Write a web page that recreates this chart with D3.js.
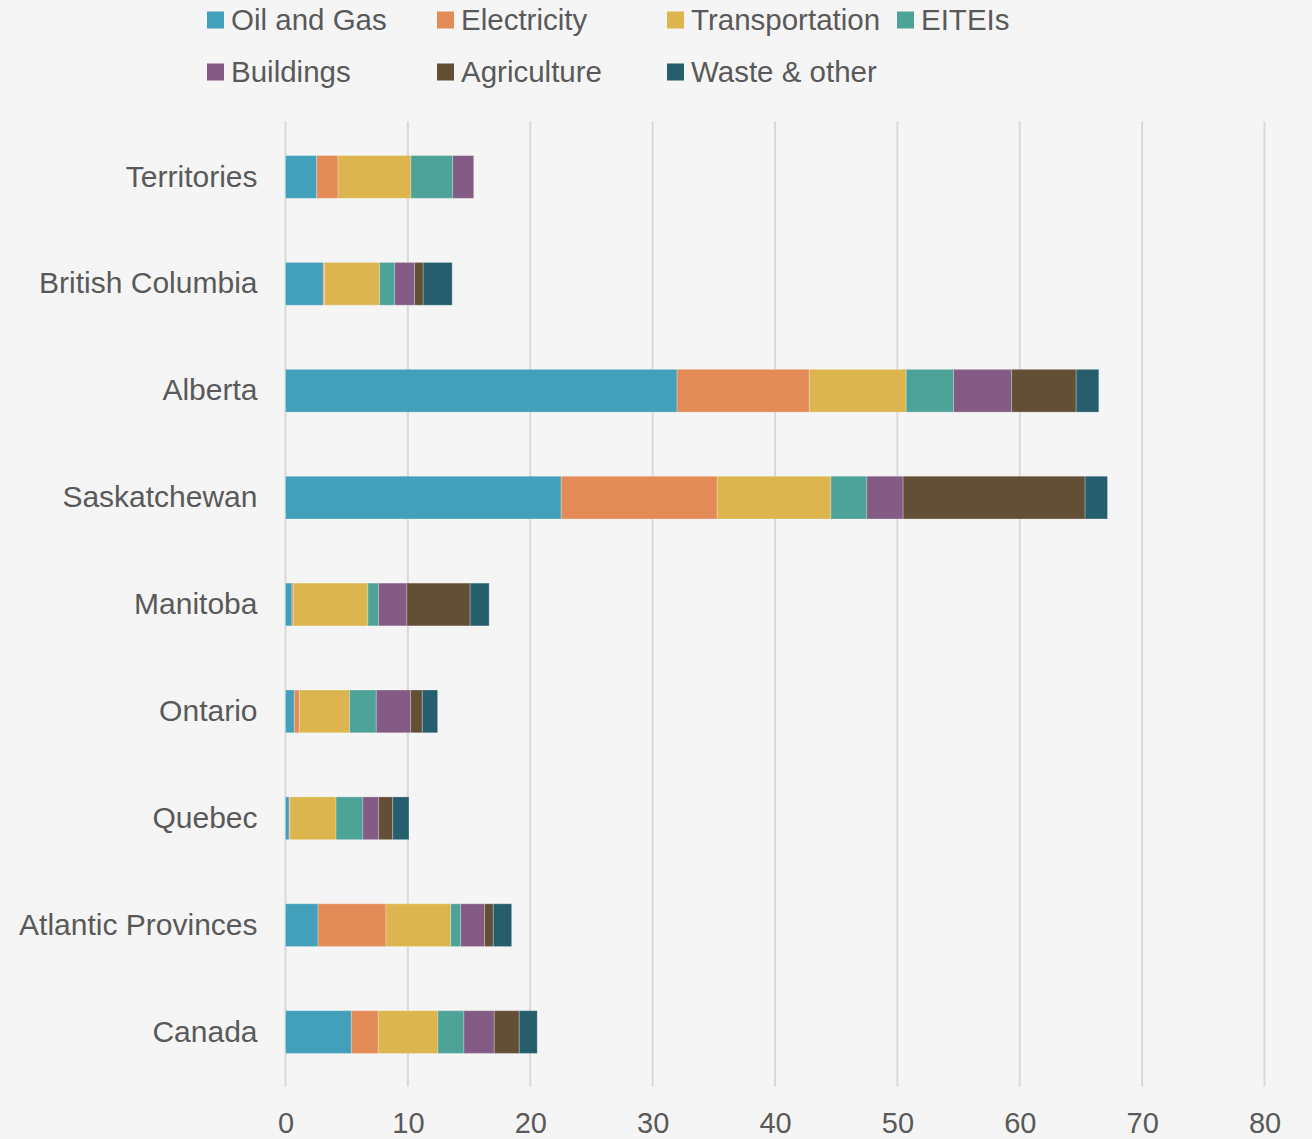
<!DOCTYPE html>
<html>
<head>
<meta charset="utf-8">
<script src="https://cdn.jsdelivr.net/npm/d3@7"></script>
<style>
  html, body { margin: 0; padding: 0; background: #f5f5f5; }
  svg { display: block; }
</style>
</head>
<body>
<svg id="chart" width="1312" height="1139"></svg>
<script>
// Regions, top to bottom
const regions = ["Territories", "British Columbia", "Alberta", "Saskatchewan", "Manitoba",
                 "Ontario", "Quebec", "Atlantic Provinces", "Canada"];

// Sectors in stacking order
const sectors = ["Oil and Gas", "Electricity", "Transportation", "EITEIs",
                 "Buildings", "Agriculture", "Waste & other"];

const sectorColors = ["#43a0ba", "#e38b57", "#dcb54e", "#4ea399", "#845b84", "#634f35", "#265e6d"];

// Per-sector values, one per region (same order as regions)
const oilGas         = [2.55, 3.09, 32.0, 22.53, 0.53, 0.72, 0.30, 2.66, 5.38];
const electricity    = [1.74, 0.10, 10.8, 12.75, 0.10, 0.41, 0.05, 5.55, 2.20];
const transportation = [5.96, 4.50, 7.92, 9.29, 6.10, 4.11, 3.78, 5.29, 4.88];
const eiteis         = [3.41, 1.23, 3.87, 2.94, 0.87, 2.18, 2.20, 0.81, 2.12];
const buildings      = [1.72, 1.63, 4.74, 2.96, 2.32, 2.81, 1.28, 1.96, 2.48];
const agriculture    = [0.00, 0.70, 5.28, 14.87, 5.17, 0.95, 1.15, 0.71, 2.04];
const wasteOther     = [0.00, 2.37, 1.85, 1.83, 1.55, 1.25, 1.33, 1.50, 1.47];

const xTicks = [0, 10, 20, 30, 40, 50, 60, 70, 80];

const seriesValues = [oilGas, electricity, transportation, eiteis, buildings, agriculture, wasteOther];

const rows = regions.map((r, i) => {
  const row = { region: r };
  sectors.forEach((s, k) => { row[s] = seriesValues[k][i]; });
  return row;
});

const svg = d3.select("#chart");
const textColor = "#595959";
const fontFamily = "'Liberation Sans', Arial, sans-serif";

const margin = { left: 285.5, right: 47.5, top: 123.5, bottom: 53.5 };
const W = 1312, H = 1139;

const x = d3.scaleLinear().domain([0, 80]).range([margin.left, W - margin.right]);
const y = d3.scaleBand().domain(regions).range([margin.top, H - margin.bottom]).paddingInner(0.6).paddingOuter(0.3);
const color = d3.scaleOrdinal().domain(sectors).range(sectorColors);

// Vertical gridlines
svg.append("g")
  .selectAll("line")
  .data(xTicks)
  .join("line")
  .attr("x1", d => x(d)).attr("x2", d => x(d))
  .attr("y1", margin.top - 2).attr("y2", H - margin.bottom + 1)
  .attr("stroke", "#d9d9d9")
  .attr("stroke-width", 2);

// Stacked bars
const stack = d3.stack().keys(sectors)(rows);
svg.append("g")
  .selectAll("g")
  .data(stack)
  .join("g")
  .attr("fill", d => color(d.key))
  .selectAll("rect")
  .data(d => d)
  .join("rect")
  .attr("x", d => x(d[0]))
  .attr("y", d => y(d.data.region))
  .attr("width", d => Math.max(0, x(d[1]) - x(d[0])))
  .attr("height", y.bandwidth())
  .attr("stroke", "rgba(255,255,255,0.25)")
  .attr("stroke-width", 1);

// X axis labels
const xAxis = svg.append("g")
  .attr("transform", `translate(0,${H - margin.bottom})`)
  .call(d3.axisBottom(x).tickValues(xTicks).tickSize(0).tickPadding(27));
xAxis.select(".domain").remove();
xAxis.selectAll("text")
  .attr("fill", textColor)
  .style("font-family", fontFamily)
  .style("font-size", "29px");

// Y axis labels
const yAxis = svg.append("g")
  .attr("transform", `translate(${margin.left},0)`)
  .call(d3.axisLeft(y).tickSize(0).tickPadding(28));
yAxis.select(".domain").remove();
yAxis.selectAll("text")
  .attr("fill", textColor)
  .style("font-family", fontFamily)
  .style("font-size", "30px");

// Legend
const legend = svg.append("g");
const legendItems = sectors.map((s, i) => ({
  name: s,
  col: i < 4 ? i : i - 4,
  row: i < 4 ? 0 : 1
}));
const item = legend.selectAll("g")
  .data(legendItems)
  .join("g")
  .attr("transform", d => `translate(${207 + d.col * 230},${20 + d.row * 52})`);
item.append("rect")
  .attr("x", 0).attr("y", -8.5)
  .attr("width", 17).attr("height", 17)
  .attr("fill", d => color(d.name));
item.append("text")
  .attr("x", 24)
  .attr("dy", "0.35em")
  .attr("fill", textColor)
  .style("font-family", fontFamily)
  .style("font-size", "29.5px")
  .text(d => d.name);
</script>
</body>
</html>
